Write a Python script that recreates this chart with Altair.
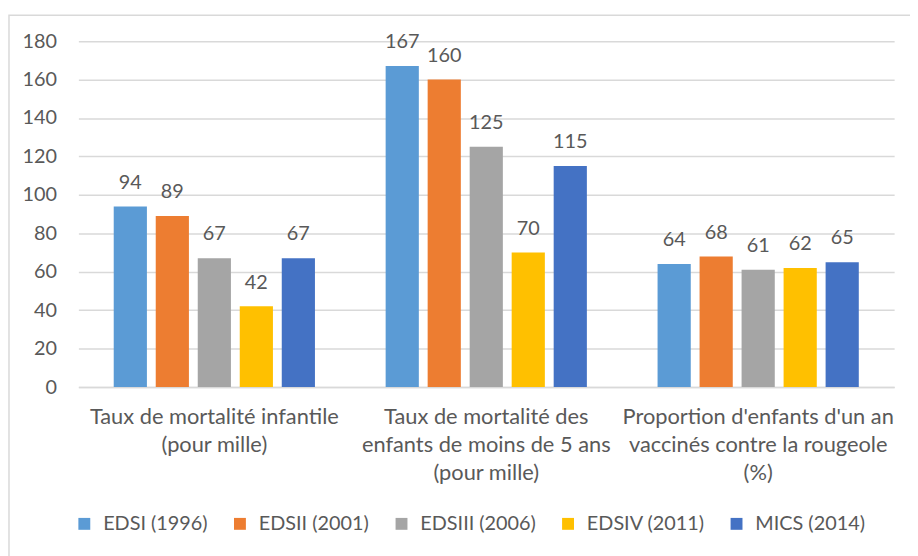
import altair as alt
import pandas as pd

categories = [
    "Taux de mortalité infantile|(pour mille)",
    "Taux de mortalité des|enfants de moins de 5 ans|(pour mille)",
    "Proportion d'enfants d'un an|vaccinés contre la rougeole|(%)",
]
series = ["EDSI (1996)", "EDSII (2001)", "EDSIII (2006)", "EDSIV (2011)", "MICS (2014)"]
edsi_1996 = [94, 167, 64]
edsii_2001 = [89, 160, 68]
edsiii_2006 = [67, 125, 61]
edsiv_2011 = [42, 70, 62]
mics_2014 = [67, 115, 65]
colors = ["#5B9BD5", "#ED7D31", "#A5A5A5", "#FFC000", "#4472C4"]
y_ticks = [0, 20, 40, 60, 80, 100, 120, 140, 160, 180]

rows = []
for s, vals in zip(series, [edsi_1996, edsii_2001, edsiii_2006, edsiv_2011, mics_2014]):
    for c, v in zip(categories, vals):
        rows.append({"cat": c, "series": s, "value": v})
df = pd.DataFrame(rows)

TXT = "#595959"
GRID = "#D9D9D9"
FS = 20

x_enc = alt.X(
    "cat:N",
    sort=categories,
    scale=alt.Scale(paddingInner=0.26, paddingOuter=0.13),
    axis=alt.Axis(
        title=None,
        labelAngle=0,
        labelExpr="split(datum.value, '|')",
        labelLimit=340,
        labelFontSize=22,
        labelColor=TXT,
        labelLineHeight=28,
        labelPadding=20,
        domainColor=GRID,
        domainWidth=1.5,
        ticks=False,
    ),
)
xoff_enc = alt.XOffset("series:N", sort=series, scale=alt.Scale(paddingInner=0.21))
y_enc = alt.Y(
    "value:Q",
    scale=alt.Scale(domain=[0, 180], nice=False),
    axis=alt.Axis(
        title=None,
        values=y_ticks,
        domain=False,
        ticks=False,
        gridColor=GRID,
        gridWidth=1.5,
        labelPadding=22,
        labelFontSize=FS,
        labelColor=TXT,
    ),
)

base = alt.Chart(df)

bars = base.mark_bar().encode(
    x=x_enc,
    xOffset=xoff_enc,
    y=y_enc,
    color=alt.Color(
        "series:N",
        sort=series,
        scale=alt.Scale(domain=series, range=colors),
        legend=alt.Legend(
            title=None,
            orient="none",
            direction="horizontal",
            legendX=-4,
            legendY=477,
            symbolType="square",
            symbolSize=144,
            symbolStrokeWidth=0,
            symbolOpacity=1,
            labelFontSize=FS,
            labelColor=TXT,
            labelOffset=9,
            columnPadding=22,
        ),
    ),
)

labels = base.mark_text(
    baseline="alphabetic", align="center", dy=-18, fontSize=FS, color=TXT
).encode(
    x=x_enc,
    xOffset=xoff_enc,
    y=y_enc,
    text=alt.Text("value:Q"),
)

frame = alt.Chart(alt.Data(values=[{"k": 1}])).mark_rect(
    fill="transparent", stroke=GRID, strokeWidth=1.5
).encode(
    x=alt.value(-70),
    x2=alt.value(900),
    y=alt.value(-26),
    y2=alt.value(600),
)

chart = (
    alt.layer(frame, bars, labels)
    .properties(
        width=823,
        height=349,
        autosize=alt.AutoSizeParams(type="none"),
        padding={"left": 71, "top": 31, "right": 16, "bottom": 168},
    )
    .configure(font="Lato")
    .configure_view(strokeWidth=0)
)

chart.save("out.html", embed_options={"renderer": "svg", "actions": False})
